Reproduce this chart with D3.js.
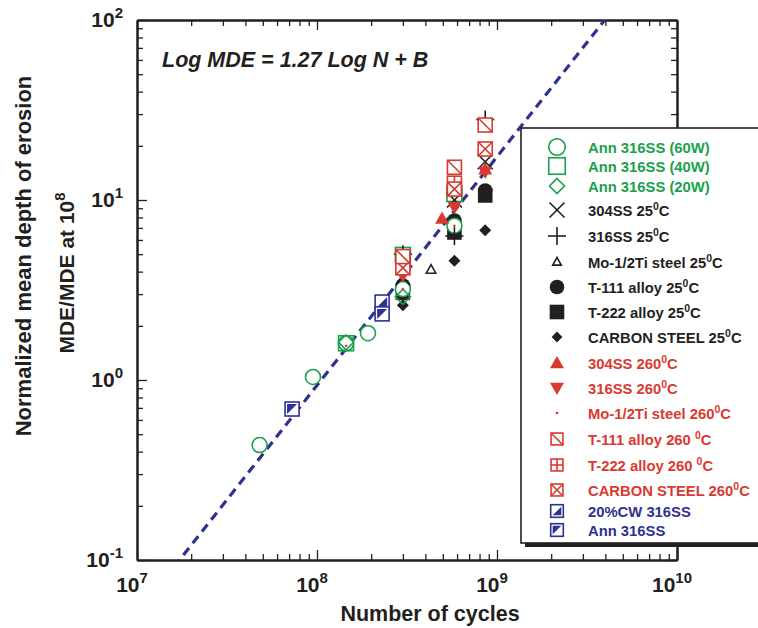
<!DOCTYPE html>
<html><head><meta charset="utf-8">
<script src="https://cdn.jsdelivr.net/npm/d3@7"></script>
<style>
body{margin:0;background:#fff}
svg{display:block;font-family:"Liberation Sans",Arial,Helvetica,sans-serif;font-weight:bold}
</style>
</head><body>
<svg id="chart" width="758" height="628"></svg>
<script>
// ---------- data ----------
const xTickValues = [1e7, 1e8, 1e9, 1e10];
const xTickExp = ["7", "8", "9", "10"];
const yTickValues = [0.1, 1, 10, 100];
const yTickExp = ["-1", "0", "1", "2"];

// [cycles, normalized MDE]
const ann316_60W = [[4.8e7,0.435],[9.5e7,1.04],[1.45e8,1.6],[1.92e8,1.82],[3.0e8,3.2],[5.8e8,7.2]];
const ann316_40W = [[1.45e8,1.6],[3.0e8,4.95],[5.8e8,10.8]];
const ann316_20W = [[1.45e8,1.62],[3.0e8,2.9]];
const ss304_25C  = [[3.0e8,3.7],[5.8e8,10.0],[8.6e8,16.3]];
const ss316_25C  = [[3.0e8,5.0],[5.8e8,6.3],[8.6e8,28]];
const mo12Ti_25C = [[4.3e8,4.1]];
const t111_25C   = [[3.0e8,3.35],[5.8e8,7.7],[8.6e8,11.3]];
const t222_25C   = [[3.0e8,3.05],[5.8e8,6.6],[8.6e8,10.6]];
const carbon_25C = [[3.0e8,2.6],[5.8e8,4.6],[8.6e8,6.8]];
const ss304_260C = [[4.95e8,7.9],[8.6e8,14.8]];
const ss316_260C = [[3.0e8,3.8],[5.8e8,9.1],[8.6e8,14.3]];
const mo12Ti_260C= [[1.45e8,1.55],[3.0e8,3.2],[5.8e8,7.2]];
const t111_260C  = [[3.0e8,4.85],[5.8e8,15.2],[8.6e8,26.1]];
const t222_260C  = [[3.0e8,4.5],[5.8e8,12.4]];
const carbon_260C= [[3.0e8,4.2],[5.8e8,11.5],[8.6e8,19.2]];
const cw20_316SS = [[2.3e8,2.71]];
const ann_316SS  = [[7.27e7,0.69],[2.3e8,2.33]];

// fit: Log MDE = 1.27 Log N + B
const fitSlope = 1.27;
const fitIntercept = -10.19;
const fitRangeN = [1e7, 1e10];

const equationText = "Log MDE = 1.27 Log N + B";
const xTitle = "Number of cycles";
const yTitle1 = "Normalized mean depth of erosion";
const yTitle2 = "MDE/MDE at 10";

// ---------- styling ----------
const GREEN = "#1aa04c", RED = "#d83a31", BLUE = "#2e3192", BLACK = "#231f20";

const series = [
  {key:"ann60",  label:"Ann 316SS (60W)",        data:ann316_60W, type:"circleOpen", color:GREEN},
  {key:"ann40",  label:"Ann 316SS (40W)",        data:ann316_40W, type:"squareOpen", color:GREEN},
  {key:"ann20",  label:"Ann 316SS (20W)",        data:ann316_20W, type:"diamondOpen",color:GREEN},
  {key:"s304",   label:"304SS 25{0}C",            data:ss304_25C,  type:"cross",      color:BLACK},
  {key:"s316",   label:"316SS 25{0}C",            data:ss316_25C,  type:"plus",       color:BLACK},
  {key:"mo25",   label:"Mo-1/2Ti steel 25{0}C",   data:mo12Ti_25C, type:"triOpen",    color:BLACK},
  {key:"t111",   label:"T-111 alloy 25{0}C",      data:t111_25C,   type:"circleFill", color:BLACK},
  {key:"t222",   label:"T-222 alloy 25{0}C",      data:t222_25C,   type:"squareFill", color:BLACK},
  {key:"cs25",   label:"CARBON STEEL 25{0}C",     data:carbon_25C, type:"diamondFill",color:BLACK},
  {key:"s304h",  label:"304SS 260{0}C",           data:ss304_260C, type:"triUp",      color:RED},
  {key:"s316h",  label:"316SS 260{0}C",           data:ss316_260C, type:"triDown",    color:RED},
  {key:"moh",    label:"Mo-1/2Ti steel 260{0}C",  data:mo12Ti_260C,type:"dot",        color:RED},
  {key:"t111h",  label:"T-111 alloy 260 {0}C",    data:t111_260C,  type:"sqDiag",     color:RED},
  {key:"t222h",  label:"T-222 alloy 260 {0}C",    data:t222_260C,  type:"sqGrid",     color:RED},
  {key:"csh",    label:"CARBON STEEL 260{0}C",    data:carbon_260C,type:"sqX",        color:RED},
  {key:"cw20",   label:"20%CW 316SS",             data:cw20_316SS, type:"sqHalfBR",   color:BLUE},
  {key:"ann",    label:"Ann 316SS",               data:ann_316SS,  type:"sqHalfTL",   color:BLUE}
];
const drawOrder = ["t222","t111","cs25","ann60","ann40","ann20","mo25","s304","s316",
                   "s304h","s316h","t222h","csh","t111h","moh","cw20","ann"];
const legendRowY = [147,166,186,210,236,262,287,312,337,363,388,413,439,465,490,511,530];

// ---------- chart ----------
const svg = d3.select("#chart");
const L = 137, R = 677, T = 20, B = 560;
const x = d3.scaleLog().domain([1e7, 1e10]).range([L, R]);
const y = d3.scaleLog().domain([0.1, 100]).range([B, T]);

function minors(lo, hi) {
  const out = [];
  for (let d = lo; d < hi; d++) for (let k = 2; k <= 9; k++) out.push(k * Math.pow(10, d));
  return out;
}
const xMinor = minors(7, 10), yMinor = minors(-1, 2);

function styleAxis(g) {
  g.select(".domain").attr("stroke", BLACK).attr("stroke-width", 2);
  g.selectAll(".tick line").attr("stroke", BLACK).attr("stroke-width", 1.3);
  g.selectAll(".tick text").remove();
}
const axes = [
  [d3.axisBottom, `translate(0,${B})`, x, xMinor, xTickValues],
  [d3.axisTop,    `translate(0,${T})`, x, xMinor, xTickValues],
  [d3.axisLeft,   `translate(${L},0)`, y, yMinor, yTickValues],
  [d3.axisRight,  `translate(${R},0)`, y, yMinor, yTickValues]
];
axes.forEach(([fn, tr, sc, mn, mj]) => {
  svg.append("g").attr("transform", tr)
    .call(fn(sc).tickValues(mn).tickSize(-6).tickSizeOuter(0).tickFormat("")).call(styleAxis);
  svg.append("g").attr("transform", tr)
    .call(fn(sc).tickValues(mj).tickSize(-10).tickSizeOuter(0).tickFormat("")).call(styleAxis);
});

// tick labels with superscripts
xTickValues.forEach((v, i) => {
  const t = svg.append("text").attr("x", x(v) - 5).attr("y", B + 32)
    .attr("text-anchor", "middle").attr("font-size", 21).attr("fill", BLACK);
  t.append("tspan").text("10");
  t.append("tspan").attr("font-size", 15).attr("dy", -9).text(xTickExp[i]);
});
yTickValues.forEach((v, i) => {
  const t = svg.append("text").attr("x", 123).attr("y", y(v) + 7)
    .attr("text-anchor", "end").attr("font-size", 21).attr("fill", BLACK);
  t.append("tspan").text("10");
  t.append("tspan").attr("font-size", 15).attr("dy", -9).text(yTickExp[i]);
});

// titles
svg.append("text").attr("x", 430).attr("y", 621).attr("text-anchor", "middle")
  .attr("font-size", 21.5).attr("fill", BLACK).text(xTitle);
svg.append("text").attr("transform", "translate(31,256) rotate(-90)").attr("text-anchor", "middle")
  .attr("font-size", 22).attr("fill", BLACK).text(yTitle1);
const yt2 = svg.append("text").attr("transform", "translate(74,273) rotate(-90)").attr("text-anchor", "middle")
  .attr("font-size", 21).attr("fill", BLACK);
yt2.append("tspan").text(yTitle2);
yt2.append("tspan").attr("font-size", 15).attr("dy", -9).text("8");

svg.append("text").attr("x", 162).attr("y", 67).attr("font-size", 21.5)
  .attr("font-style", "italic").attr("fill", BLACK).text(equationText);

// fit line (clipped to plot)
svg.append("clipPath").attr("id", "plotClip").append("rect")
  .attr("x", L).attr("y", T).attr("width", R - L).attr("height", B - T);
const fitPts = fitRangeN.map(n => [n, Math.pow(10, fitSlope * Math.log10(n) + fitIntercept)]);
svg.append("path").attr("clip-path", "url(#plotClip)")
  .attr("d", d3.line().x(d => x(d[0])).y(d => y(d[1]))(fitPts))
  .attr("fill", "none").attr("stroke", BLUE).attr("stroke-width", 3.2)
  .attr("stroke-dasharray", "9,6");

// marker drawing
function marker(g, type, cx, cy, color, s) {
  const sw = 1.6;
  const sq = (h, fill) => g.append("rect").attr("x", cx - h).attr("y", cy - h)
      .attr("width", 2 * h).attr("height", 2 * h).attr("fill", fill).attr("stroke", color).attr("stroke-width", sw);
  const ln = (x1, y1, x2, y2, w) => g.append("line").attr("x1", cx + x1).attr("y1", cy + y1)
      .attr("x2", cx + x2).attr("y2", cy + y2).attr("stroke", color).attr("stroke-width", w || sw);
  const poly = (pts, fill, stroke) => g.append("path")
      .attr("d", "M" + pts.map(p => (cx + p[0]) + "," + (cy + p[1])).join("L") + "Z")
      .attr("fill", fill).attr("stroke", stroke || "none").attr("stroke-width", sw);
  switch (type) {
    case "circleOpen": g.append("circle").attr("cx", cx).attr("cy", cy).attr("r", 7.5 * s)
        .attr("fill", "#fff").attr("stroke", color).attr("stroke-width", sw); break;
    case "squareOpen": sq(7.5 * s, "none"); break;
    case "diamondOpen": { const h = 7.5 * s; poly([[0,-h],[h,0],[0,h],[-h,0]], "none", color); break; }
    case "cross": { const h = 7.5 * s; ln(-h,-h,h,h); ln(-h,h,h,-h); break; }
    case "plus": { const h = 9 * s; ln(-h,0,h,0); ln(0,-h,0,h); break; }
    case "triOpen": { const h = 5 * s; poly([[0,-h],[h*0.95,h*0.7],[-h*0.95,h*0.7]], "#fff", color); break; }
    case "circleFill": g.append("circle").attr("cx", cx).attr("cy", cy).attr("r", 7.3 * s).attr("fill", color); break;
    case "squareFill": g.append("rect").attr("x", cx - 7.3 * s).attr("y", cy - 7.3 * s)
        .attr("width", 14.6 * s).attr("height", 14.6 * s).attr("fill", color); break;
    case "diamondFill": { const h = 6 * s; poly([[0,-h],[h,0],[0,h],[-h,0]], color); break; }
    case "triUp": { const h = 7 * s; poly([[0,-h],[h,h*0.75],[-h,h*0.75]], color); break; }
    case "triDown": { const h = 7 * s; poly([[0,h],[h,-h*0.75],[-h,-h*0.75]], color); break; }
    case "dot": g.append("circle").attr("cx", cx).attr("cy", cy).attr("r", 1.3).attr("fill", color); break;
    case "sqDiag": { const h = 7 * s; sq(h, "#fff"); ln(-h,-h,h,h); break; }
    case "sqGrid": { const h = 7 * s; sq(h, "#fff"); ln(-h,0,h,0); ln(0,-h,0,h); break; }
    case "sqX": { const h = 7 * s; sq(h, "#fff"); ln(-h,-h,h,h); ln(-h,h,h,-h); break; }
    case "sqHalfBR": { const h = 7 * s, i = h - 2; sq(h, "#fff"); poly([[i,-i],[i,i],[-i,i]], color); break; }
    case "sqHalfTL": { const h = 7 * s, i = h - 2; sq(h, "#fff"); poly([[-i,-i],[i,-i],[-i,i]], color); break; }
  }
}

const plotG = svg.append("g");
const byKey = Object.fromEntries(series.map(s => [s.key, s]));
drawOrder.forEach(k => {
  const s = byKey[k];
  s.data.forEach(d => marker(plotG, s.type, x(d[0]), y(d[1]), s.color, 1));
});

// legend
const lg = svg.append("g");
lg.append("rect").attr("x", 525).attr("y", 132).attr("width", 260).attr("height", 415).attr("fill", BLACK);
lg.append("rect").attr("x", 521).attr("y", 128).attr("width", 260).attr("height", 415)
  .attr("fill", "#fff").attr("stroke", BLACK).attr("stroke-width", 1.6);
const legendScale = {circleOpen:1.1, squareOpen:1.1, diamondOpen:1.0, cross:1.0, plus:1.0, triOpen:0.9,
  circleFill:1.0, squareFill:1.0, diamondFill:0.9, triUp:1.0, triDown:1.0, dot:1,
  sqDiag:0.85, sqGrid:0.85, sqX:0.85, sqHalfBR:0.9, sqHalfTL:0.9};
series.forEach((s, i) => {
  const ry = legendRowY[i];
  marker(lg, s.type, 557, ry, s.color, legendScale[s.type]);
  const t = lg.append("text").attr("x", 588).attr("y", ry + 5.5).attr("font-size", 14.8).attr("fill", s.color);
  const parts = s.label.split(/[{}]/);
  parts.forEach((p, j) => {
    if (!p) return;
    if (j % 2 === 1) t.append("tspan").attr("font-size", 10.5).attr("dy", -6).text(p);
    else t.append("tspan").attr("dy", j > 0 ? 6 : 0).text(p);
  });
});
</script>
</body></html>
